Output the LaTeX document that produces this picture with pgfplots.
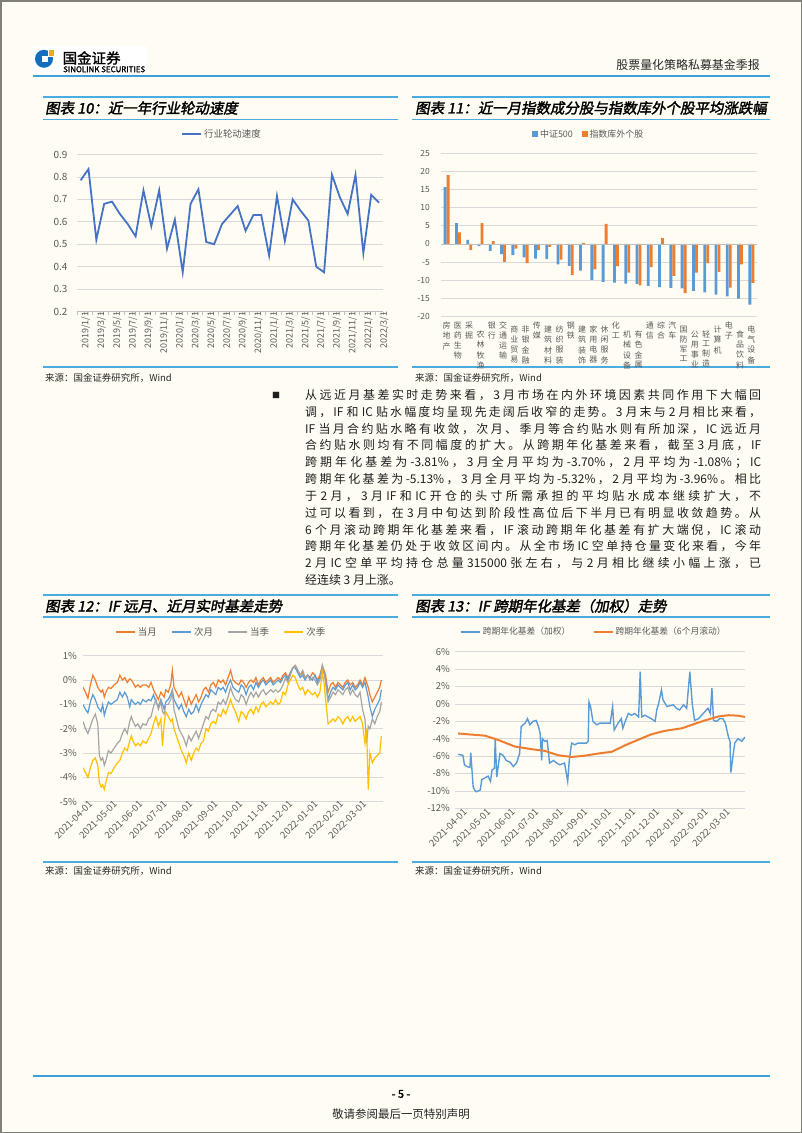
\documentclass[border=0pt]{standalone}
\usepackage{fontspec}
\setmainfont{Noto Sans CJK SC}
\newfontfamily\titlefont[FakeBold=2,FakeSlant=0.18]{Noto Sans CJK SC}
\newfontfamily\boldfont[FakeBold=1.5]{Noto Sans CJK SC}
\usepackage{graphicx}
\usepackage{pgfplots}
\pgfplotsset{compat=1.18}
\usepackage{pgfplotstable}

\XeTeXinterchartokenstate=1
\newXeTeXintercharclass\CJKcls
\makeatletter
\newcount\cjk@n
\def\cjk@setrange#1#2{\cjk@n=#1\relax\loop\XeTeXcharclass\cjk@n=\CJKcls\relax\ifnum\cjk@n<#2\relax\advance\cjk@n by 1\relax\repeat}
\cjk@setrange{"4E00}{"9FFF}
\cjk@setrange{"3000}{"303F}
\cjk@setrange{"FF00}{"FFEF}
\makeatother
\XeTeXinterchartoks\CJKcls\CJKcls={\hskip0pt plus 0.5em\relax}
\XeTeXinterchartoks\CJKcls 0={\hskip0pt plus 0.5em\relax}
\XeTeXinterchartoks 0\CJKcls={\hskip0pt plus 0.5em\relax}

\definecolor{pagebg}{RGB}{255,253,243}
\definecolor{pageborder}{RGB}{128,128,120}
\definecolor{hdrblue}{RGB}{60,160,220}
\definecolor{ttlblue}{RGB}{75,172,225}
\definecolor{gridgray}{RGB}{217,217,217}
\definecolor{axisgray}{RGB}{191,191,191}
\definecolor{ticktext}{RGB}{89,89,89}
\definecolor{bodytext}{RGB}{30,30,30}
\definecolor{c10blue}{RGB}{68,114,196}
\definecolor{xlblue}{RGB}{91,155,213}
\definecolor{xlorange}{RGB}{237,125,49}
\definecolor{xlgray}{RGB}{165,165,165}
\definecolor{xlyellow}{RGB}{255,192,0}
\definecolor{logoblue}{RGB}{20,110,190}
\definecolor{logoorange}{RGB}{245,165,30}

\newcommand{\vs}[2]{\raisebox{-#1bp}[\height][\depth]{\shortstack{#2}}}

\pgfplotsset{pg/.style={
  scale only axis, anchor=south west,
  axis line style={draw=none},
  major tick length=0pt,
  ymajorgrids, grid style={gridgray, line width=0.7bp},
  tick label style={text=ticktext},
  yticklabel style={anchor=east, inner sep=0pt},
  /pgf/number format/assume math mode=true,
  legend style={draw=none, fill=none, anchor=center, font=\fontsize{9}{9}\selectfont, text=ticktext},
  legend cell align=left,
  legend image code/.code={\draw[##1, line width=2.2bp] (0bp,0bp) -- (19bp,0bp);},
  xtick pos=lower, ytick pos=left,
}}

\pgfplotstableread{
x y
0 0.785
1 0.835
2 0.52
3 0.68
4 0.69
5 0.635
6 0.59
7 0.535
8 0.74
9 0.58
10 0.74
11 0.48
12 0.61
13 0.375
14 0.68
15 0.745
16 0.51
17 0.50
18 0.59
19 0.63
20 0.67
21 0.56
22 0.63
23 0.63
24 0.45
25 0.715
26 0.515
27 0.70
28 0.65
29 0.605
30 0.40
31 0.375
32 0.81
33 0.71
34 0.635
35 0.81
36 0.46
37 0.72
38 0.685
}\tenData

\pgfplotstableread{
x a b
0 15.6 18.9
1 5.7 3.2
2 1.1 -1.7
3 -0.6 5.7
4 -1.9 0.8
5 -2.8 -4.9
6 -3.1 -1.3
7 -3.7 -5.3
8 -4.0 -1.7
9 -4.1 -0.8
10 -5.6 -4.3
11 -6.0 -8.5
12 -7.3 0.3
13 -9.9 -7.0
14 -10.4 5.5
15 -10.6 -6.1
16 -10.9 -7.9
17 -11.0 -11.4
18 -11.5 -6.4
19 -11.9 1.6
20 -12.1 -8.8
21 -12.2 -13.5
22 -12.9 -7.9
23 -13.3 -5.3
24 -13.9 -7.7
25 -14.4 -12.0
26 -15.0 -5.6
27 -16.7 -10.7
}\elevenData

\pgfplotstableread{
d a b c e
0 -0.3 -1.0 -1.7 -3.6
3 -0.5 -1.2 -2.0 -3.8
6 -0.75 -1.35 -2.2 -4.0
9 -0.2 -0.9 -1.9 -3.6
12 0.2 -0.6 -1.6 -3.3
15 0.0 -0.8 -1.4 -3.2
18 -0.3 -1.1 -1.8 -3.5
20 -0.4 -1.2 -3.1 -4.2
22 -0.5 -1.3 -3.3 -4.4
24 -0.4 -1.0 -3.2 -4.3
26 -0.7 -1.45 -3.5 -4.5
28 -0.5 -1.2 -3.3 -4.2
31 -0.3 -0.9 -2.9 -3.8
34 -0.35 -1.0 -3.0 -3.85
38 -0.2 -0.9 -2.8 -3.6
42 -0.1 -0.8 -2.6 -3.4
45 0.2 -0.5 -2.5 -3.3
48 0.0 -0.7 -2.2 -3.0
51 0.1 -0.5 -2.0 -2.8
54 -0.1 -0.7 -2.2 -2.9
57 0.05 -1.1 -1.7 -2.5
59 0.0 -0.8 -1.5 -2.3
61 -0.1 -0.9 -1.7 -2.5
64 -0.3 -1.0 -1.9 -2.7
67 -0.2 -0.9 -1.8 -2.6
70 -0.3 -1.0 -2.0 -2.7
73 -0.2 -0.8 -1.8 -2.5
77 -0.2 -0.9 -1.85 -2.6
80 -0.3 -0.8 -1.6 -2.4
83 -0.1 -0.85 -1.5 -2.2
86 -0.4 -0.6 -1.1 -1.8
89 -0.6 -0.9 -0.8 -1.5
92 -0.8 -1.1 -1.2 -1.9
95 -0.5 -0.8 -0.9 -1.6
97 -0.6 -1.0 -1.3 -2.7
99 -0.7 -1.2 -1.4 -1.8
101 -0.4 -0.9 -1.0 -1.3
104 -0.5 -0.8 -1.0 -1.5
107 -0.2 -0.6 -0.8 -1.7
109 0.4 -0.4 -0.5 -1.6
111 -0.3 -0.8 -1.2 -2.0
114 -0.5 -1.0 -1.6 -2.3
117 -0.7 -1.2 -2.0 -2.6
120 -0.5 -1.0 -2.2 -2.9
123 -0.8 -1.3 -2.4 -3.1
126 -1.1 -1.5 -2.7 -3.4
129 -0.7 -1.2 -2.3 -3.0
132 -1.0 -1.4 -2.5 -3.3
135 -0.8 -1.3 -2.3 -3.0
138 -0.6 -1.0 -2.1 -2.8
141 -0.9 -1.3 -2.4 -2.9
144 -0.7 -1.0 -2.1 -2.6
147 -0.4 -0.8 -1.8 -2.5
150 -0.3 -0.6 -1.5 -2.0
153 -0.5 -0.7 -1.6 -2.1
156 -0.2 -0.4 -1.3 -1.8
159 -0.1 -0.5 -1.2 -1.7
162 -0.3 -0.6 -1.3 -1.8
165 0.0 -0.3 -0.9 -1.4
168 -0.1 -0.4 -1.0 -1.5
171 0.0 -0.3 -0.8 -1.2
174 -0.2 -0.5 -1.0 -1.4
177 0.1 -0.2 -0.7 -1.1
180 0.4 0.0 -0.3 -0.8
183 0.0 -0.3 -0.6 -1.1
186 -0.1 -0.4 -0.8 -1.3
190 -0.2 -0.5 -0.9 -1.7
193 0.0 -0.2 -0.6 -1.3
196 -0.1 -0.3 -0.7 -1.4
199 -0.3 -0.6 -1.0 -1.6
202 -0.1 -0.3 -0.7 -1.3
205 0.0 -0.2 -0.5 -1.2
208 -0.1 -0.4 -0.7 -1.4
211 0.1 -0.1 -0.5 -1.1
214 -0.2 -0.3 -0.7 -1.3
217 0.0 -0.1 -0.5 -1.0
220 0.1 0.0 -0.4 -0.9
223 -0.1 -0.2 -0.6 -1.1
226 0.0 -0.1 -0.5 -1.0
229 0.1 0.0 -0.4 -0.9
232 -0.1 -0.2 -0.5 -1.0
235 0.0 -0.1 -0.4 -0.8
238 0.1 0.0 -0.5 -1.0
241 0.0 -0.1 -0.4 -0.9
244 0.2 0.1 -0.2 -0.5
247 0.3 0.2 0.1 -0.6
250 0.1 0.0 -0.1 -0.2
253 0.3 0.3 0.2 0.0
256 0.5 0.5 0.5 0.2
259 0.6 0.5 0.6 0.1
262 0.4 0.3 0.4 -0.2
265 0.2 0.1 0.2 -0.4
268 0.3 0.2 0.4 -0.3
271 0.1 0.0 0.1 -0.6
274 0.2 0.2 0.2 -0.4
277 0.1 0.1 0.0 -0.5
280 0.3 0.0 0.1 -0.6
283 0.2 0.2 0.0 -0.5
286 0.0 -0.1 -0.2 -0.7
289 0.2 0.1 0.0 -0.5
292 0.6 0.5 0.6 0.3
294 0.4 0.3 0.3 -0.1
296 0.2 0.0 -0.1 -0.8
299 -0.5 -0.8 -0.9 -1.8
302 -0.2 -0.5 -0.7 -1.7
305 -0.1 -0.3 -0.5 -1.6
308 -0.3 -0.4 -0.6 -1.7
311 -0.1 -0.2 -0.4 -1.5
314 -0.2 -0.3 -0.5 -1.6
317 -0.3 -0.4 -0.6 -1.8
320 -0.1 -0.2 -0.4 -1.6
323 0.0 -0.1 -0.3 -1.5
326 -0.2 -0.4 -0.6 -1.7
329 -0.1 -0.2 -0.4 -1.5
332 -0.3 -0.4 -0.6 -1.7
335 -0.2 -0.3 -0.7 -1.6
338 0.0 -0.1 -0.5 -1.5
341 -0.2 -0.3 -1.2 -1.8
344 0.1 -0.1 -1.6 -2.6
346 -0.1 -0.4 -2.6 -2.0
348 -0.3 -0.7 -1.9 -4.5
350 -0.6 -1.1 -2.0 -3.0
353 -0.9 -1.5 -1.6 -3.4
356 -0.7 -1.2 -1.8 -3.2
359 -0.5 -1.0 -1.5 -3.1
362 -0.3 -0.8 -1.3 -3.0
364 0.0 -0.4 -0.9 -2.3
}\twelveData

\pgfplotstableread{
d v
0 -5.8
6 -5.9
8 -7.0
11 -7.2
15 -7.3
16 -5.6
19 -9.5
21 -9.9
23 -10.1
28 -9.9
30 -8.7
34 -8.5
38 -8.3
41 -8.9
43 -7.6
46 -7.4
47 -4.0
49 -8.4
53 -5.7
57 -5.9
61 -6.5
66 -6.7
70 -7.2
74 -6.8
78 -5.7
80 -2.6
85 -2.2
88 -1.7
91 -2.4
95 -2.0
99 -1.9
102 -2.6
104 -3.4
106 -6.5
107 -4.0
110 -4.3
113 -4.2
116 -6.8
121 -6.5
125 -6.8
129 -7.0
135 -6.8
139 -8.9
141 -6.5
144 -4.5
148 -4.7
152 -4.5
157 -4.5
163 -4.5
165 -4.3
166 0.25
168 -0.3
171 -2.0
176 -2.4
180 -2.2
186 -2.2
193 -2.2
196 -0.3
198 -3.0
203 -2.2
207 -1.7
209 -2.8
212 -2.0
216 -1.1
220 -1.3
224 -1.1
229 -1.5
231 3.7
233 -1.5
237 -1.3
241 -1.5
245 -1.7
250 -2.0
252 -0.7
254 -0.1
258 1.6
260 0.45
265 -0.3
269 -0.2
273 -0.1
277 -0.5
281 -0.7
286 -0.1
290 -0.5
294 3.7
297 0.06
300 -1.9
305 -1.7
309 -1.3
313 -0.9
317 -0.5
320 -1.1
322 1.8
324 -1.9
328 -2.0
332 -1.7
336 -1.7
339 -2.2
343 -3.8
345 -4.3
346 -7.9
348 -6.5
351 -4.5
355 -4.0
360 -4.3
364 -3.8
}\thirteenA

\pgfplotstableread{
d v
0 -3.4
34 -3.65
51 -4.15
72 -4.9
93 -5.2
110 -5.4
127 -5.9
144 -6.1
161 -5.95
178 -5.7
195 -5.5
212 -4.75
229 -4.1
245 -3.5
262 -3.1
284 -2.8
300 -2.3
313 -1.9
330 -1.45
343 -1.3
355 -1.35
364 -1.5
}\thirteenB

\begin{document}
\begin{tikzpicture}
\path[use as bounding box] (0,0) rectangle (802bp,-1133bp);
\fill[pagebg] (0,0) rectangle (802bp,-1133bp);
\draw[pageborder, line width=1.5bp] (0.75bp,-0.75bp) rectangle (801.25bp,-1132.25bp);

% ---------- header ----------
\fill[white] (32bp,-46bp) rectangle (147bp,-73bp);
\fill[logoblue] (44bp,-58.8bp) circle (9bp);
\fill[white] (41.5bp,-62bp) rectangle (47.5bp,-56bp);
\filldraw[fill=logoorange, draw=white, line width=1bp] (48bp,-49.7bp) rectangle (54.3bp,-56bp);
\node[anchor=west, inner sep=0pt, font=\boldfont\fontsize{14.5}{14.5}\selectfont, text=black] at (62.5bp,-58bp) {国金证券};
\node[anchor=west, inner sep=0pt, text=black] at (63bp,-69.3bp) {\resizebox{82bp}{!}{\boldfont SINOLINK SECURITIES}};
\node[anchor=east, inner sep=0pt, font=\fontsize{12}{12}\selectfont, text=black!85] at (760bp,-65bp) {股票量化策略私募基金季报};
\draw[hdrblue, line width=1.2bp] (33bp,-76bp) -- (770bp,-76bp);

% ---------- title frames ----------
\foreach \xa/\xb in {43/398, 412/770} {
  \draw[ttlblue, line width=1.8bp] (\xa bp,-97bp) -- (\xb bp,-97bp);
  \draw[ttlblue, line width=1.1bp] (\xa bp,-119.5bp) -- (\xb bp,-119.5bp);
  \draw[ttlblue, line width=1.1bp] (\xa bp,-367bp) -- (\xb bp,-367bp);
  \draw[ttlblue, line width=1.8bp] (\xa bp,-595bp) -- (\xb bp,-595bp);
  \draw[ttlblue, line width=1.1bp] (\xa bp,-617bp) -- (\xb bp,-617bp);
  \draw[ttlblue, line width=1.1bp] (\xa bp,-862bp) -- (\xb bp,-862bp);
}
\node[anchor=west, inner sep=0pt, font=\titlefont\fontsize{14.5}{14.5}\selectfont] at (45bp,-108bp) {图表 10：近一年行业轮动速度};
\node[anchor=west, inner sep=0pt, font=\titlefont\fontsize{14.5}{14.5}\selectfont] at (415bp,-108bp) {图表 11：近一月指数成分股与指数库外个股平均涨跌幅};
\node[anchor=west, inner sep=0pt, font=\titlefont\fontsize{14.5}{14.5}\selectfont] at (45bp,-606bp) {图表 12：IF 远月、近月实时基差走势};
\node[anchor=west, inner sep=0pt, font=\titlefont\fontsize{14.5}{14.5}\selectfont] at (415bp,-606bp) {图表 13：IF 跨期年化基差（加权）走势};

\foreach \xs/\ys in {45/378, 415/378, 45/871, 415/871} {
  \node[anchor=west, inner sep=0pt, font=\fontsize{9.5}{9.5}\selectfont, text=black!85] at (\xs bp,-\ys bp) {来源：国金证券研究所，Wind};
}

% ---------- body text ----------
\node[anchor=west, inner sep=0pt, font=\fontsize{8}{8}\selectfont, text=bodytext] at (272bp,-395bp) {■};
\node[anchor=north west, inner sep=0pt, text width=456bp, align=justify, font=\fontsize{12}{16.9}\selectfont, text=bodytext] at (305bp,-389bp) {%
从远近月基差实时走势来看，3 月市场在内外环境因素共同作用下大幅回\linebreak
调，IF 和 IC 贴水幅度均呈现先走阔后收窄的走势。3 月末与 2 月相比来看，\linebreak
IF 当月合约贴水略有收敛，次月、季月等合约贴水则有所加深，IC 远近月\linebreak
合约贴水则均有不同幅度的扩大。从跨期年化基差来看，截至 3 月底，IF\linebreak
跨期年化基差为-3.81\%，3 月全月平均为-3.70\%，2 月平均为-1.08\%；IC\linebreak
跨期年化基差为-5.13\%，3 月全月平均为-5.32\%，2 月平均为-3.96\%。相比\linebreak
于 2 月，3 月 IF 和 IC 开仓的头寸所需承担的平均贴水成本继续扩大，不\linebreak
过可以看到，在 3 月中旬达到阶段性高位后下半月已有明显收敛趋势。从\linebreak
6 个月滚动跨期年化基差来看，IF 滚动跨期年化基差有扩大端倪，IC 滚动\linebreak
跨期年化基差仍处于收敛区间内。从全市场 IC 空单持仓量变化来看，今年\linebreak
2 月 IC 空单平均持仓总量 315000 张左右，与 2 月相比继续小幅上涨，已\linebreak
经连续 3 月上涨。};

% ---------- footer ----------
\draw[hdrblue, line width=1.2bp] (33bp,-1076bp) -- (770bp,-1076bp);
\node[inner sep=0pt, font=\boldfont\fontsize{11}{11}\selectfont] at (401bp,-1094bp) {- 5 -};
\node[inner sep=0pt, font=\fontsize{11.5}{11.5}\selectfont, text=black!85] at (401bp,-1114bp) {敬请参阅最后一页特别声明};

% ---------- chart 10 ----------
\begin{axis}[pg,
  at={(76.7bp,-311.5bp)}, width=306.3bp, height=157bp,
  xmin=-0.5, xmax=38.5, ymin=0.2, ymax=0.9,
  ytick={0.2,0.3,0.4,0.5,0.6,0.7,0.8,0.9},
  yticklabels={0.2,0.3,0.4,0.5,0.6,0.7,0.8,0.9},
  xtick={0,2,...,38},
  xticklabels={2019/1/1,2019/3/1,2019/5/1,2019/7/1,2019/9/1,2019/11/1,2020/1/1,2020/3/1,2020/5/1,2020/7/1,2020/9/1,2020/11/1,2021/1/1,2021/3/1,2021/5/1,2021/7/1,2021/9/1,2021/11/1,2022/1/1,2022/3/1},
  minor xtick={-0.5,0.5,...,38.5}, minor tick length=3.5bp, minor tick style={axisgray}, tick align=outside,
  xticklabel style={rotate=90, anchor=east, inner sep=0pt, yshift=-5bp, font=\fontsize{9}{9}\selectfont},
  yticklabel style={xshift=-9bp, font=\fontsize{10}{10}\selectfont},
  legend style={at={(0.474,1.13)}, font=\fontsize{9.5}{9.5}\selectfont},
]
\addplot[c10blue, line width=1.8bp] table[x=x,y=y] {\tenData};
\addlegendentry{行业轮动速度}
\draw[axisgray, line width=0.8bp] (axis cs:-0.5,0.2) -- (axis cs:38.5,0.2);
\end{axis}

% ---------- chart 11 ----------
\begin{axis}[pg,
  at={(441bp,-316.7bp)}, width=316bp, height=163.7bp,
  xmin=-0.5, xmax=27.5, ymin=-20, ymax=25,
  ytick={-20,-15,-10,-5,0,5,10,15,20,25},
  yticklabels={-20,-15,-10,-5,0,5,10,15,20,25},
  xtick={0,...,27},
  xticklabels={
  {\vs{0}{房\\地\\产}},{\vs{0}{医\\药\\生\\物}},{\vs{0}{采\\掘}},{\vs{9}{农\\林\\牧\\渔}},
  {\vs{0}{银\\行}},{\vs{0}{交\\通\\运\\输}},{\vs{4}{商\\业\\贸\\易}},{\vs{4}{非\\银\\金\\融}},
  {\vs{0}{传\\媒}},{\vs{4}{建\\筑\\材\\料}},{\vs{4}{纺\\织\\服\\装}},{\vs{0}{钢\\铁}},
  {\vs{4}{建\\筑\\装\\饰}},{\vs{4}{家\\用\\电\\器}},{\vs{4}{休\\闲\\服\\务}},{\vs{0}{化\\工}},
  {\vs{9}{机\\械\\设\\备}},{\vs{9}{有\\色\\金\\属}},{\vs{0}{通\\信}},{\vs{0}{综\\合}},
  {\vs{0}{汽\\车}},{\vs{4}{国\\防\\军\\工}},{\vs{9}{公\\用\\事\\业}},{\vs{9}{轻\\工\\制\\造}},
  {\vs{4}{计\\算\\机}},{\vs{0}{电\\子}},{\vs{9}{食\\品\\饮\\料}},{\vs{4}{电\\气\\设\\备}}},
  xticklabel style={anchor=north, inner sep=0pt, yshift=-5bp, font=\fontsize{8}{8}\selectfont},
  yticklabel style={xshift=-11bp, font=\fontsize{8.5}{8.5}\selectfont},
  legend columns=2,
  legend style={at={(0.468,1.116)}, font=\fontsize{9}{9}\selectfont, /tikz/every even column/.append style={column sep=7bp}},
]
\addplot[ybar, bar width=2.8bp, bar shift=-1.5bp, fill=xlblue, draw=none,
  legend image code/.code={\fill[xlblue] (0bp,-2.8bp) rectangle (5.6bp,2.8bp);}] table[x=x,y=a] {\elevenData};
\addlegendentry{中证500}
\addplot[ybar, bar width=2.8bp, bar shift=1.5bp, fill=xlorange, draw=none,
  legend image code/.code={\fill[xlorange] (0bp,-2.8bp) rectangle (5.6bp,2.8bp);}] table[x=x,y=b] {\elevenData};
\addlegendentry{指数库外个股}
\draw[axisgray, line width=0.8bp] (axis cs:-0.5,0) -- (axis cs:27.5,0);
\end{axis}

% ---------- chart 12 ----------
\begin{axis}[pg,
  at={(83bp,-801.7bp)}, width=300bp, height=146bp,
  xmin=0, xmax=366, ymin=-5, ymax=1,
  ytick={-5,-4,-3,-2,-1,0,1},
  yticklabels={-5\%,-4\%,-3\%,-2\%,-1\%,0\%,1\%},
  xtick={0,30,61,91,122,153,183,214,244,275,306,334},
  xticklabels={2021-04-01,2021-05-01,2021-06-01,2021-07-01,2021-08-01,2021-09-01,2021-10-01,2021-11-01,2021-12-01,2022-01-01,2022-02-01,2022-03-01},
  xticklabel style={rotate=45, anchor=east, inner sep=0pt, xshift=5bp, yshift=-6bp, font=\fontsize{9.5}{9.5}\selectfont},
  yticklabel style={xshift=-6bp, font=\fontsize{9.5}{9.5}\selectfont},
  legend columns=4,
  legend style={at={(0.46,1.164)}, font=\fontsize{9.5}{9.5}\selectfont, /tikz/every even column/.append style={column sep=12bp}},
]
\addplot[xlorange, line width=1.2bp] table[x=d,y=a] {\twelveData};
\addlegendentry{当月}
\addplot[xlblue, line width=1.2bp] table[x=d,y=b] {\twelveData};
\addlegendentry{次月}
\addplot[xlgray, line width=1.2bp] table[x=d,y=c] {\twelveData};
\addlegendentry{当季}
\addplot[xlyellow, line width=1.2bp] table[x=d,y=e] {\twelveData};
\addlegendentry{次季}
\end{axis}

% ---------- chart 13 ----------
\begin{axis}[pg,
  at={(455bp,-808.3bp)}, width=290bp, height=156.6bp,
  xmin=-4, xmax=364, ymin=-12, ymax=6,
  ytick={-12,-10,-8,-6,-4,-2,0,2,4,6},
  yticklabels={-12\%,-10\%,-8\%,-6\%,-4\%,-2\%,0\%,2\%,4\%,6\%},
  xtick={0,30,61,91,122,153,183,214,244,275,306,334},
  xticklabels={2021-04-01,2021-05-01,2021-06-01,2021-07-01,2021-08-01,2021-09-01,2021-10-01,2021-11-01,2021-12-01,2022-01-01,2022-02-01,2022-03-01},
  xticklabel style={rotate=45, anchor=east, inner sep=0pt, xshift=3.5bp, yshift=-6.5bp, font=\fontsize{9.5}{9.5}\selectfont},
  yticklabel style={xshift=-5bp, font=\fontsize{9.5}{9.5}\selectfont},
  legend columns=2,
  legend style={at={(0.478,1.128)}, font=\fontsize{8.8}{8.8}\selectfont, /tikz/every even column/.append style={column sep=20bp}},
]
\addplot[xlblue, line width=1.4bp] table[x=d,y=v] {\thirteenA};
\addlegendentry{跨期年化基差（加权）}
\addplot[xlorange, line width=2bp] table[x=d,y=v] {\thirteenB};
\addlegendentry{跨期年化基差（6个月滚动）}
\end{axis}
\end{tikzpicture}
\end{document}
